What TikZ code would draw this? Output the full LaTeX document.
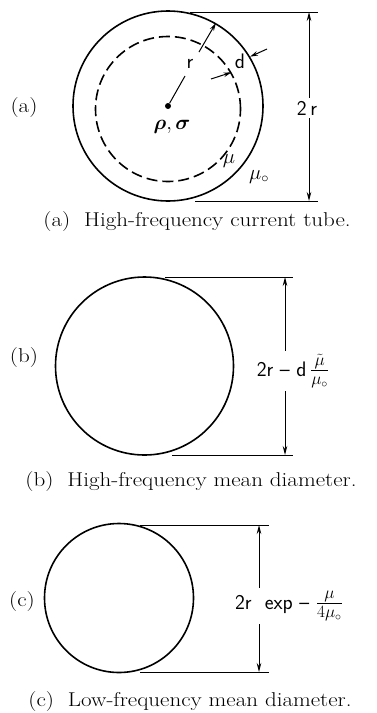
\documentclass[tikz,border=0pt]{standalone}
\usepackage{amsmath,amssymb,bm}
\usepackage{fontspec}
\usetikzlibrary{arrows.meta}
\tikzset{
  ln/.style={line width=1.6pt},
  dim/.style={line width=1pt},
  arrowtip/.style={-{Stealth[length=8pt,width=4.5pt]}},
  dimarrow/.style={line width=1pt,{Stealth[length=9pt,width=4.5pt]}-{Stealth[length=9pt,width=4.5pt]}},
  ringnode/.style={circle,draw,ln,inner sep=0pt},
  hand/.style={font=\fontsize{21}{24}\selectfont\sffamily,inner sep=1pt},
  captext/.style={font=\fontsize{20}{24}\selectfont,inner sep=0pt},
}
\newcommand{\widecap}[1]{\scalebox{1.15}[1]{#1}}
\newcommand{\bigfrac}[3]{{\fontsize{#1}{#1}\selectfont$\frac{#2}{#3}$}}
\begin{document}
\begin{tikzpicture}[x=1pt,y=-1pt]
\useasboundingbox (0,0) rectangle (376,713);
% ---------- (a)
\node[ringnode,minimum size=190pt] (oa) at (168,106) {};
\node[ringnode,dash pattern=on 11pt off 5pt,minimum size=145pt] (ia) at (168,109) {};
\node[circle,fill,inner sep=0pt,minimum size=6pt] (ca) at (168,106) {};
\coordinate (r1) at (185,76);
\coordinate (r2) at (199,52);
\draw[dim] (ca) -- (r1);
\draw[dim,arrowtip] (r2) -- (oa.60);
\node[hand] (rl) at (190,64) {r};
\coordinate (d1) at (211,79);
\coordinate (d2) at (267,49);
\draw[dim,arrowtip] (d1) -- (ia.30);
\draw[dim,arrowtip] (d2) -- (oa.31);
\node[hand] (dl) at (240,61) {d};
\node[hand] (rho) at (172,127) {$\bm{\rho},\bm{\sigma}$};
\node[hand] (mu) at (229,161) {$\mu$};
\node[hand] (mu0) at (259,177) {$\mu_{\circ}$};
\coordinate (ta1) at (190,12);
\coordinate (ta2) at (318,12);
\coordinate (ba1) at (195,201);
\coordinate (ba2) at (318,201);
\coordinate (va1) at (309,12);
\coordinate (va2) at (309,201);
\draw[dim] (ta1) -- (ta2);
\draw[dim] (ba1) -- (ba2);
\draw[dimarrow] (va1) -- (va2);
\node[hand,fill=white,inner sep=3pt] (la) at (307,108) {2\,r};
\node[captext] (sa) at (24,108) {\widecap{(a)}};
\node[captext] (capa) at (197,222) {\widecap{(a)\ \ High-frequency current tube.}};
% ---------- (b)
\node[ringnode,minimum size=178pt] (ob) at (144.5,366) {};
\coordinate (tb1) at (165,277);
\coordinate (tb2) at (293,277);
\coordinate (bb1) at (172,455);
\coordinate (bb2) at (293,455);
\coordinate (vb1) at (285,277);
\coordinate (vb2) at (285,455);
\draw[dim] (tb1) -- (tb2);
\draw[dim] (bb1) -- (bb2);
\draw[dimarrow] (vb1) -- (vb2);
\node[hand,fill=white,inner sep=3pt] (lb) at (293,371) {2r \textendash\ d\,\bigfrac{26}{\tilde{\mu}}{\mu_{\circ}}};
\node[captext] (sb) at (24,358) {\widecap{(b)}};
\node[captext] (capb) at (191,482) {\widecap{(b)\ \ High-frequency mean diameter.}};
% ---------- (c)
\node[ringnode,minimum size=149pt] (oc) at (119,598) {};
\coordinate (tc1) at (140,525);
\coordinate (tc2) at (269,525);
\coordinate (bc1) at (140,672);
\coordinate (bc2) at (269,672);
\coordinate (vc1) at (259,525);
\coordinate (vc2) at (259,672);
\draw[dim] (tc1) -- (tc2);
\draw[dim] (bc1) -- (bc2);
\draw[dimarrow] (vc1) -- (vc2);
\node[hand,fill=white,inner sep=3pt] (lc) at (289,606) {2r\ \ exp \textendash\ \bigfrac{26}{\mu}{4\mu_{\circ}}};
\node[captext] (sc) at (22,602) {\widecap{(c)}};
\node[captext] (capc) at (190,702) {\widecap{(c)\ \ Low-frequency mean diameter.}};
\end{tikzpicture}
\end{document}
